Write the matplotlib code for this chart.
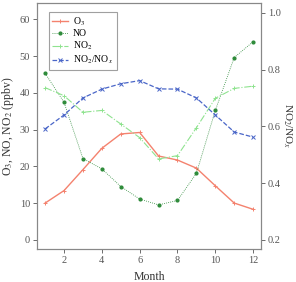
import matplotlib
matplotlib.use("Agg")
import matplotlib.pyplot as plt

plt.rcParams['font.family'] = ['Liberation Serif', 'DejaVu Serif']
plt.rcParams['mathtext.fontset'] = 'stix'

months = [1, 2, 3, 4, 5, 6, 7, 8, 9, 10, 11, 12]
o3 = [10.0, 13.4, 19.1, 24.9, 28.8, 29.2, 22.8, 21.7, 19.5, 14.7, 10.0, 8.3]
no = [45.3, 37.4, 22.1, 19.3, 14.5, 11.1, 9.5, 10.7, 18.1, 35.2, 49.6, 53.9]
no2 = [41.4, 39.2, 34.7, 35.2, 31.5, 27.8, 22.0, 22.9, 30.5, 38.5, 41.2, 41.8]
ratio = [0.591, 0.640, 0.700, 0.731, 0.750, 0.761, 0.732, 0.731, 0.700, 0.640, 0.580, 0.562]

fig = plt.figure(figsize=(2.96, 2.82), dpi=100)
ax = fig.add_axes([0.125, 0.117, 0.757, 0.872])
ax2 = ax.twinx()

c_o3 = '#f4826e'
c_no = '#2e8b3a'
c_no2 = '#8fe38f'
c_r = '#4a66c8'

l1, = ax.plot(months, o3, color=c_o3, lw=1.0, marker='+', ms=2.5, mew=0.7, label='O$_3$')
l2, = ax.plot(months, no, color=c_no, lw=0.6, ls=(0, (1, 1.5)), marker='o', ms=2.0, label='NO')
l3, = ax.plot(months, no2, color=c_no2, lw=0.8, ls='-.', marker='+', ms=3.5, mew=0.7, label='NO$_2$')
l4, = ax2.plot(months, ratio, color=c_r, lw=0.9, ls='--', marker='x', ms=2.5, mew=0.7, label='NO$_2$/NO$_x$')

ax.set_xlim(0.57, 12.42)
ax.set_ylim(-2.5, 64.4)
ax2.set_ylim(0.168, 1.034)
ax.set_xticks([2, 4, 6, 8, 10, 12])
ax.set_yticks([0, 10, 20, 30, 40, 50, 60])
ax2.set_yticks([0.2, 0.4, 0.6, 0.8, 1.0])

gray = '#555555'
for a in (ax, ax2):
    a.tick_params(labelsize=7.5, colors=gray, length=3, width=0.6, pad=2)
    for s in a.spines.values():
        s.set_color('#888888')
        s.set_linewidth(0.8)

ax.set_xlabel('Month', fontsize=8.5, color='#333333', labelpad=4)
ax.set_ylabel('O$_3$, NO, NO$_2$ (ppbv)', fontsize=8.5, color='#333333', labelpad=3)
ax2.set_ylabel('NO$_2$/NO$_x$', fontsize=8, color='#333333', rotation=270, labelpad=9)

leg = ax.legend(handles=[l1, l2, l3, l4], loc='upper left', fontsize=7,
                frameon=True, fancybox=False, edgecolor='#888888',
                handlelength=1.6, handletextpad=0.5, borderpad=0.4, labelspacing=0.15,
                bbox_to_anchor=(0.03, 0.985))
leg.get_frame().set_linewidth(0.8)

fig.savefig('out.png', dpi=100)
